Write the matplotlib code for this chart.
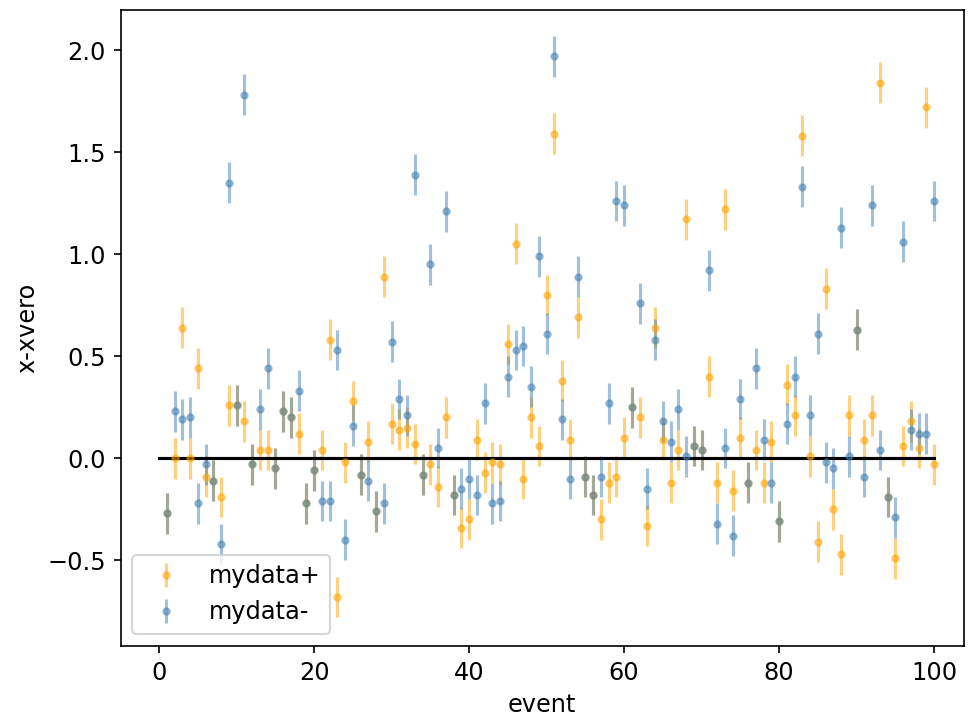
import matplotlib
matplotlib.use("Agg")
import matplotlib.pyplot as plt
import numpy as np

events = list(range(1, 101))

mydata_plus = [
    -0.27, 0.00, 0.64, 0.00, 0.44, -0.09, -0.11, -0.19, 0.26, 0.26,
    0.18, -0.03, 0.04, 0.04, -0.05, 0.23, 0.20, 0.12, -0.22, -0.06,
    0.04, 0.58, -0.68, -0.02, 0.28, -0.08, 0.08, -0.26, 0.89, 0.17,
    0.14, 0.15, 0.07, -0.08, -0.03, -0.14, 0.20, -0.18, -0.34, -0.30,
    0.09, -0.07, -0.02, -0.03, 0.56, 1.05, -0.10, 0.20, 0.06, 0.80,
    1.59, 0.38, 0.09, 0.69, -0.09, -0.18, -0.30, -0.12, -0.09, 0.10,
    0.25, 0.20, -0.33, 0.64, 0.09, -0.12, 0.04, 1.17, 0.06, 0.04,
    0.40, -0.12, 1.22, -0.16, 0.10, -0.12, 0.04, -0.12, 0.08, -0.31,
    0.36, 0.21, 1.58, 0.01, -0.41, 0.83, -0.25, -0.47, 0.21, 0.63,
    0.09, 0.21, 1.84, -0.19, -0.49, 0.06, 0.18, 0.05, 1.72, -0.03,
]

mydata_minus = [
    -0.27, 0.23, 0.19, 0.20, -0.22, -0.03, -0.11, -0.42, 1.35, 0.26,
    1.78, -0.03, 0.24, 0.44, -0.05, 0.23, 0.20, 0.33, -0.22, -0.06,
    -0.21, -0.21, 0.53, -0.40, 0.16, -0.08, -0.11, -0.26, -0.22, 0.57,
    0.29, 0.21, 1.39, -0.08, 0.95, 0.05, 1.21, -0.18, -0.15, -0.10,
    -0.18, 0.27, -0.22, -0.21, 0.40, 0.53, 0.55, 0.35, 0.99, 0.61,
    1.97, 0.19, -0.10, 0.89, -0.09, -0.18, -0.09, 0.27, 1.26, 1.24,
    0.25, 0.76, -0.15, 0.58, 0.18, 0.08, 0.24, 0.01, 0.06, 0.04,
    0.92, -0.32, 0.05, -0.38, 0.29, -0.12, 0.44, 0.09, -0.12, -0.31,
    0.17, 0.40, 1.33, 0.21, 0.61, -0.02, -0.05, 1.13, 0.01, 0.63,
    -0.09, 1.24, 0.04, -0.19, -0.29, 1.06, 0.14, 0.12, 0.12, 1.26,
]

yerr = 0.1
ref_x = [0, 100]
ref_y = [0, 0]

plt.rcParams['font.size'] = 11.5

W, H, DPI = 968, 717, 150
fig = plt.figure(figsize=(W / DPI, H / DPI), dpi=DPI)
ax = fig.add_axes([120.5 / W, 1 - 646 / H, 843 / W, 636 / H])

ax.errorbar(events, mydata_plus, yerr=yerr, fmt='.', color='orange',
            alpha=0.5, label='mydata+')
ax.errorbar(events, mydata_minus, yerr=yerr, fmt='.', color='steelblue',
            alpha=0.5, label='mydata-')
ax.plot(ref_x, ref_y, color='black')

ax.set_xlim(-5, 103.8)
ax.set_ylim(-0.92, 2.196)
ax.set_xlabel('event')
ax.set_ylabel('x-xvero')
ax.legend(loc='lower left')

fig.savefig('out.png', dpi=DPI)
